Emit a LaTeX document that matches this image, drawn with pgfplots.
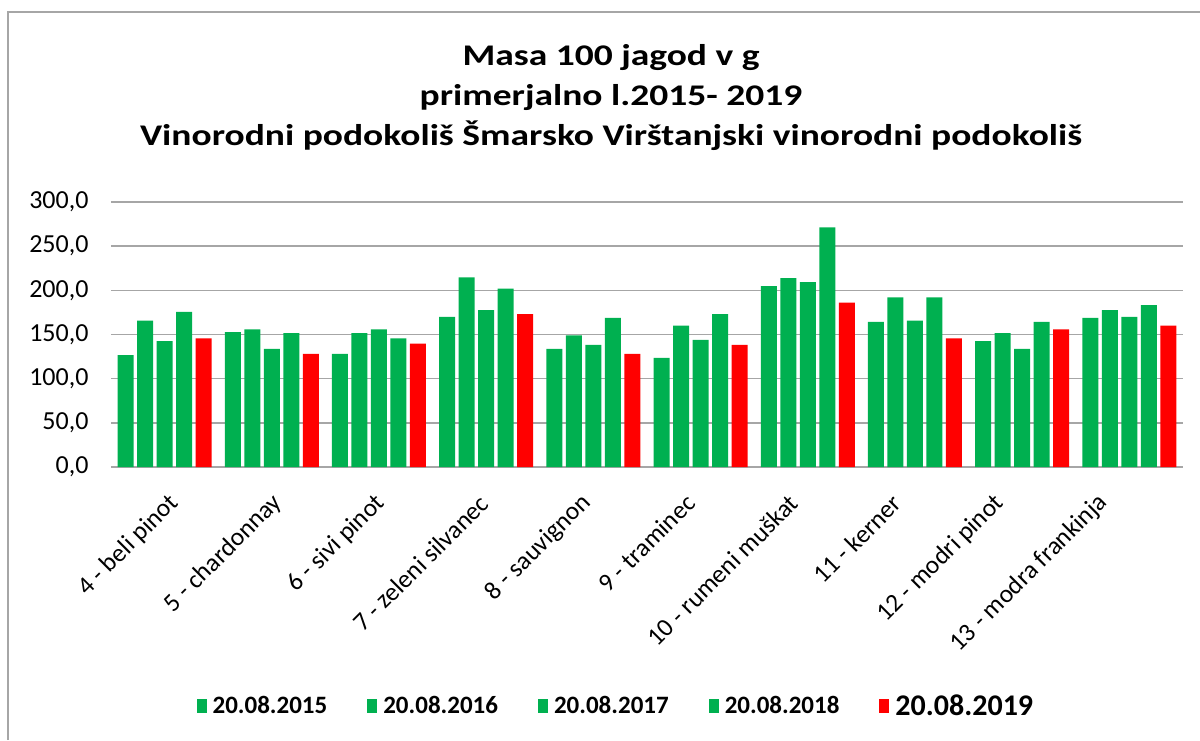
\documentclass[border=0pt]{standalone}
\usepackage{pgfplots}
\pgfplotsset{compat=1.18}
\usepackage{fontspec}
\setmainfont{Carlito}
\definecolor{xgreen}{HTML}{00B050}
\definecolor{xred}{HTML}{FF0000}
\definecolor{gridgray}{HTML}{A6A6A6}
\begin{document}
\begin{tikzpicture}[x=1pt,y=1pt]
\useasboundingbox (0,0) rectangle (1200,-740);
\draw[gridgray, line width=1.5pt] (8,-740) -- (8,-12) -- (1200,-12);
\node[anchor=base, inner sep=0pt, font=\fontsize{30}{34}\selectfont\bfseries] at (611,-65) {\scalebox{1.25}[1]{Masa 100 jagod v g}};
\node[anchor=base, inner sep=0pt, font=\fontsize{30}{34}\selectfont\bfseries] at (611,-105) {\scalebox{1.25}[1]{primerjalno l.2015- 2019}};
\node[anchor=base, inner sep=0pt, font=\fontsize{30}{34}\selectfont\bfseries] at (611,-145) {\scalebox{1.25}[1]{Vinorodni podokoliš Šmarsko Virštanjski vinorodni podokoliš}};
\begin{axis}[
  at={(111pt,-467pt)}, anchor=south west,
  scale only axis, width=1072pt, height=265pt,
  xmin=-0.5, xmax=9.5, ymin=0, ymax=300,
  ytick={0,50,...,300},
  xtick={-0.121,0.841,1.804,2.767,3.729,4.692,5.655,6.617,7.580,8.543},
  xticklabels={4 - beli pinot, 5 - chardonnay, 6 - sivi pinot, 7 - zeleni silvanec, 8 - sauvignon, 9 - traminec, 10 - rumeni muškat, 11 - kerner, 12 - modri pinot, 13 - modra frankinja},
  ybar=3.5pt, bar width=16pt,
  axis line style={draw=none},
  tick style={draw=none},
  ymajorgrids, grid style={gridgray, line width=1.5pt},
  /pgf/number format/fixed,
  /pgf/number format/fixed zerofill,
  /pgf/number format/precision=1,
  /pgf/number format/use comma,
  /pgf/number format/assume math mode=true,
  y tick label style={font=\fontsize{26}{30}\selectfont, xshift=-19pt},
  x tick label style={font=\fontsize{25.5}{30}\selectfont, rotate=45, anchor=east, yshift=-36pt},
  legend columns=5,
  legend style={draw=none, at={(0.471,-0.902)}, anchor=center,
    /tikz/every odd column/.append style={column sep=4pt},
    /tikz/every even column/.append style={column sep=38pt},
    font=\fontsize{25}{28}\selectfont\bfseries},
  legend image code/.code={\fill[#1] (0pt,-7pt) rectangle (10pt,7pt);},
]
\addplot[fill=xgreen, draw=none] coordinates {(0,126.6) (1,152.7) (2,128.2) (3,170.0) (4,133.8) (5,123.6) (6,204.7) (7,164.3) (8,142.5) (9,168.9)};
\addlegendentry{20.08.2015}
\addplot[fill=xgreen, draw=none] coordinates {(0,165.8) (1,155.7) (2,151.5) (3,214.8) (4,148.9) (5,160.2) (6,213.7) (7,191.9) (8,151.5) (9,177.5)};
\addlegendentry{20.08.2016}
\addplot[fill=xgreen, draw=none] coordinates {(0,142.5) (1,133.8) (2,155.7) (3,177.5) (4,138.3) (5,144.0) (6,209.2) (7,165.8) (8,133.8) (9,170.0)};
\addlegendentry{20.08.2017}
\addplot[fill=xgreen, draw=none] coordinates {(0,175.6) (1,151.5) (2,145.5) (3,202.0) (4,168.9) (5,173.0) (6,271.4) (7,191.9) (8,164.3) (9,183.2)};
\addlegendentry{20.08.2018}
\addplot[fill=xred, draw=none] coordinates {(0,145.5) (1,128.2) (2,139.8) (3,173.0) (4,128.2) (5,138.3) (6,186.2) (7,145.5) (8,155.7) (9,160.2)};
\addlegendentry{\fontsize{30}{33}\selectfont 20.08.2019}
\end{axis}
\end{tikzpicture}
\end{document}
